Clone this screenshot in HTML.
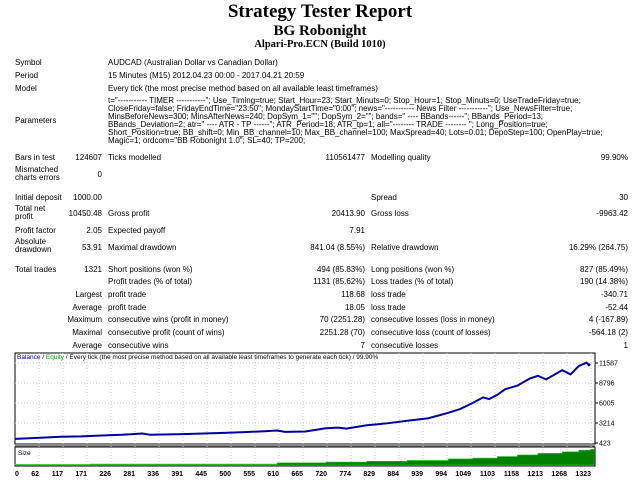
<!DOCTYPE html>
<html><head><meta charset="utf-8"><style>
body{margin:0;width:640px;height:480px;background:#fff;position:relative;overflow:hidden;font-family:"Liberation Sans",sans-serif;color:#000}
.t{position:absolute;white-space:nowrap;font-size:8px;line-height:9px}
.r{text-align:right}
h1,h2,h3{position:absolute;left:0;width:640px;text-align:center;margin:0;font-family:"Liberation Serif",serif;font-weight:bold;line-height:1}
</style></head><body>
<h1 style="top:2px;font-size:19px">Strategy Tester Report</h1>
<h2 style="top:24px;font-size:15px">BG Robonight</h2>
<h3 style="top:40px;font-size:10.5px">Alpari-Pro.ECN (Build 1010)</h3>

<div>
<div class="t" style="left:15px;top:58px">Symbol</div>
<div class="t" style="left:108px;top:58px">AUDCAD (Australian Dollar vs Canadian Dollar)</div></div>
<div>
<div class="t" style="left:15px;top:71px">Period</div>
<div class="t" style="left:108px;top:71px">15 Minutes (M15) 2012.04.23 00:00 - 2017.04.21 20:59</div></div>
<div>
<div class="t" style="left:15px;top:84px">Model</div>
<div class="t" style="left:108px;top:84px">Every tick (the most precise method based on all available least timeframes)</div></div>
<div>
<div class="t" style="left:15px;top:116px">Parameters</div>
<div class="t" style="left:108px;top:96px">t="----------- TIMER -----------"; Use_Timing=true; Start_Hour=23; Start_Minuts=0; Stop_Hour=1; Stop_Minuts=0; UseTradeFriday=true;</div>
<div class="t" style="left:108px;top:104px">CloseFriday=false; FridayEndTime="23:50"; MondayStartTime="0:00"; news="----------- News Filter -----------"; Use_NewsFilter=true;</div>
<div class="t" style="left:108px;top:112px">MinsBeforeNews=300; MinsAfterNews=240; DopSym_1=""; DopSym_2=""; bands=" ---- BBands------"; BBands_Period=13;</div>
<div class="t" style="left:108px;top:120px">BBands_Deviation=2; atr=" ---- ATR - TP ------"; ATR_Period=18; ATR_tp=1; all="-------- TRADE -------- "; Long_Position=true;</div>
<div class="t" style="left:108px;top:128px">Short_Position=true; BB_shift=0; Min_BB_channel=10; Max_BB_channel=100; MaxSpread=40; Lots=0.01; DepoStep=100; OpenPlay=true;</div>
<div class="t" style="left:108px;top:136px">Magic=1; ordcom="BB Robonight 1.0"; SL=40; TP=200;</div></div>

<div>
<div class="t" style="left:15px;top:153px">Bars in test</div>
<div class="t r" style="left:40px;width:62px;top:153px">124607</div>
<div class="t" style="left:108px;top:153px">Ticks modelled</div>
<div class="t r" style="left:265px;width:100px;top:153px">110561477</div>
<div class="t" style="left:371px;top:153px">Modelling quality</div>
<div class="t r" style="left:528px;width:100px;top:153px">99.90%</div></div>
<div>
<div class="t" style="left:15px;top:166px;line-height:8px">Mismatched<br>charts errors</div>
<div class="t r" style="left:40px;width:62px;top:170px">0</div></div>

<div>
<div class="t" style="left:15px;top:193px">Initial deposit</div>
<div class="t r" style="left:40px;width:62px;top:193px">1000.00</div>
<div class="t" style="left:371px;top:193px">Spread</div>
<div class="t r" style="left:528px;width:100px;top:193px">30</div></div>
<div>
<div class="t" style="left:15px;top:205px;line-height:8px">Total net<br>profit</div>
<div class="t r" style="left:40px;width:62px;top:209px">10450.48</div>
<div class="t" style="left:108px;top:209px">Gross profit</div>
<div class="t r" style="left:265px;width:100px;top:209px">20413.90</div>
<div class="t" style="left:371px;top:209px">Gross loss</div>
<div class="t r" style="left:528px;width:100px;top:209px">-9963.42</div></div>
<div>
<div class="t" style="left:15px;top:226px">Profit factor</div>
<div class="t r" style="left:40px;width:62px;top:226px">2.05</div>
<div class="t" style="left:108px;top:226px">Expected payoff</div>
<div class="t r" style="left:265px;width:100px;top:226px">7.91</div></div>
<div>
<div class="t" style="left:15px;top:238px;line-height:8px">Absolute<br>drawdown</div>
<div class="t r" style="left:40px;width:62px;top:243px">53.91</div>
<div class="t" style="left:108px;top:243px">Maximal drawdown</div>
<div class="t r" style="left:245px;width:120px;top:243px">841.04 (8.55%)</div>
<div class="t" style="left:371px;top:243px">Relative drawdown</div>
<div class="t r" style="left:508px;width:120px;top:243px">16.29% (264.75)</div></div>
<div>
<div class="t" style="left:15px;top:265px">Total trades</div>
<div class="t r" style="left:40px;width:62px;top:265px">1321</div>
<div class="t" style="left:108px;top:265px">Short positions (won %)</div>
<div class="t r" style="left:245px;width:120px;top:265px">494 (85.83%)</div>
<div class="t" style="left:371px;top:265px">Long positions (won %)</div>
<div class="t r" style="left:508px;width:120px;top:265px">827 (85.49%)</div></div>
<div>
<div class="t" style="left:108px;top:277px">Profit trades (% of total)</div>
<div class="t r" style="left:245px;width:120px;top:277px">1131 (85.62%)</div>
<div class="t" style="left:371px;top:277px">Loss trades (% of total)</div>
<div class="t r" style="left:508px;width:120px;top:277px">190 (14.38%)</div></div>
<div>
<div class="t r" style="left:40px;width:62px;top:290px">Largest</div>
<div class="t" style="left:108px;top:290px">profit trade</div>
<div class="t r" style="left:245px;width:120px;top:290px">118.68</div>
<div class="t" style="left:371px;top:290px">loss trade</div>
<div class="t r" style="left:508px;width:120px;top:290px">-340.71</div></div>
<div>
<div class="t r" style="left:40px;width:62px;top:303px">Average</div>
<div class="t" style="left:108px;top:303px">profit trade</div>
<div class="t r" style="left:245px;width:120px;top:303px">18.05</div>
<div class="t" style="left:371px;top:303px">loss trade</div>
<div class="t r" style="left:508px;width:120px;top:303px">-52.44</div></div>
<div>
<div class="t r" style="left:40px;width:62px;top:315px">Maximum</div>
<div class="t" style="left:108px;top:315px">consecutive wins (profit in money)</div>
<div class="t r" style="left:245px;width:120px;top:315px">70 (2251.28)</div>
<div class="t" style="left:371px;top:315px">consecutive losses (loss in money)</div>
<div class="t r" style="left:508px;width:120px;top:315px">4 (-167.89)</div></div>
<div>
<div class="t r" style="left:40px;width:62px;top:328px">Maximal</div>
<div class="t" style="left:108px;top:328px">consecutive profit (count of wins)</div>
<div class="t r" style="left:245px;width:120px;top:328px">2251.28 (70)</div>
<div class="t" style="left:371px;top:328px">consecutive loss (count of losses)</div>
<div class="t r" style="left:508px;width:120px;top:328px">-564.18 (2)</div></div>
<div>
<div class="t r" style="left:40px;width:62px;top:341px">Average</div>
<div class="t" style="left:108px;top:341px">consecutive wins</div>
<div class="t r" style="left:245px;width:120px;top:341px">7</div>
<div class="t" style="left:371px;top:341px">consecutive losses</div>
<div class="t r" style="left:508px;width:120px;top:341px">1</div></div>

<svg id="chart" width="640" height="480" style="position:absolute;left:0;top:0" xmlns="http://www.w3.org/2000/svg" font-family="Liberation Sans, sans-serif"></svg>
<script>
const tradeIdx=[0,58,105,152,199,245,292,311,339,386,433,480,527,573,602,620,667,714,742,761,808,855,901,948,976,995,1023,1051,1075,1089,1108,1126,1154,1183,1201,1220,1257,1276,1295,1313,1318,1321];
const balance=[1000,1155,1290,1340,1475,1567,1750,1567,1613,1660,1750,1842,1933,2070,2162,1979,2025,2483,2574,2437,2895,3170,3535,3856,4313,4634,5183,6007,6785,6556,7151,7929,8433,9440,9806,9302,10584,9989,11179,11637,11270,11450];
const sizeIdx=[0,171,602,714,808,901,995,1051,1108,1154,1201,1257,1295,1321];
const sizeLots=[0.01,0.012,0.02,0.025,0.03,0.035,0.045,0.05,0.06,0.07,0.08,0.09,0.1,0.105];
const yTicks=[423,3214,6005,8796,11587];
const xTicks=[0,62,117,171,226,281,336,391,445,500,555,610,665,720,774,829,884,939,994,1049,1103,1158,1213,1268,1323];
const NS='http://www.w3.org/2000/svg';
const svg=document.getElementById('chart');
const L=15,R=595,T=353,B=444,ST=447,SB=466;
const xs=i=>L+i/1323*(R-L-4);
const ys=v=>443-(v-423)/(11587-423)*80;
const ysz=v=>SB-v/0.12*(SB-ST);
function mk(tag,attrs){const e=document.createElementNS(NS,tag);for(const k in attrs)e.setAttribute(k,attrs[k]);svg.appendChild(e);return e;}
let e;
e=mk('rect',{x:L,y:T,width:R-L,height:B-T,fill:'#fff',stroke:'#000','stroke-width':1});


e=mk('rect',{x:L,y:B,width:R-L,height:3,fill:'#888'});


e=mk('rect',{x:L,y:ST,width:R-L,height:SB-ST,fill:'#fff',stroke:'#000','stroke-width':1});


xTicks.forEach((t,k)=>{const x=L+k*24;
 if(k>0){e=mk('line',{x1:x,x2:x,y1:T,y2:SB,stroke:'#ccc','stroke-dasharray':'1,2'});
 
 }
 e=mk('text',{x:x,y:476,'font-size':7,'font-weight':'bold','text-anchor':k==0?'start':'end'});e.textContent=t;
 
 
});
yTicks.forEach(v=>{const y=ys(v);
 if(v!==423){e=mk('line',{x1:L,x2:R,y1:y,y2:y,stroke:'#ccc','stroke-dasharray':'1,2'});
 
 }
 e=mk('line',{x1:R,x2:R+3,y1:y,y2:y,stroke:'#000'});
 
 
 e=mk('text',{x:R+4,y:y+2.5,'font-size':7});e.textContent=v;
 
 
});
let d='M'+xs(sizeIdx[0])+','+(SB-1);
sizeIdx.forEach((i,k)=>{const x0=xs(i),x1=k<sizeIdx.length-1?xs(sizeIdx[k+1]):xs(1321)+4;const y=ysz(sizeLots[k]);d+=' L'+x0+','+y+' L'+x1+','+y;});
d+=' L'+(xs(1321)+4)+','+(SB-1)+' Z';
e=mk('path',{d:d,fill:'#008000',stroke:'#33cc33','stroke-width':0.6});


const pts=tradeIdx.map((i,k)=>xs(i)+','+ys(balance[k])).join(' ');
e=mk('polyline',{points:pts,fill:'none',stroke:'#00a000','stroke-width':1});


e=mk('polyline',{points:pts,fill:'none',stroke:'#0000a0','stroke-width':2});


e=mk('text',{x:17,y:359,'font-size':6.5});
e.innerHTML='<tspan fill="#0000c0">Balance</tspan> / <tspan fill="#00a000">Equity</tspan> / Every tick (the most precise method based on all available least timeframes to generate each tick) / 99.90%';


e=mk('text',{x:18,y:455,'font-size':6.5});e.textContent='Size';


</script>
</body></html>
